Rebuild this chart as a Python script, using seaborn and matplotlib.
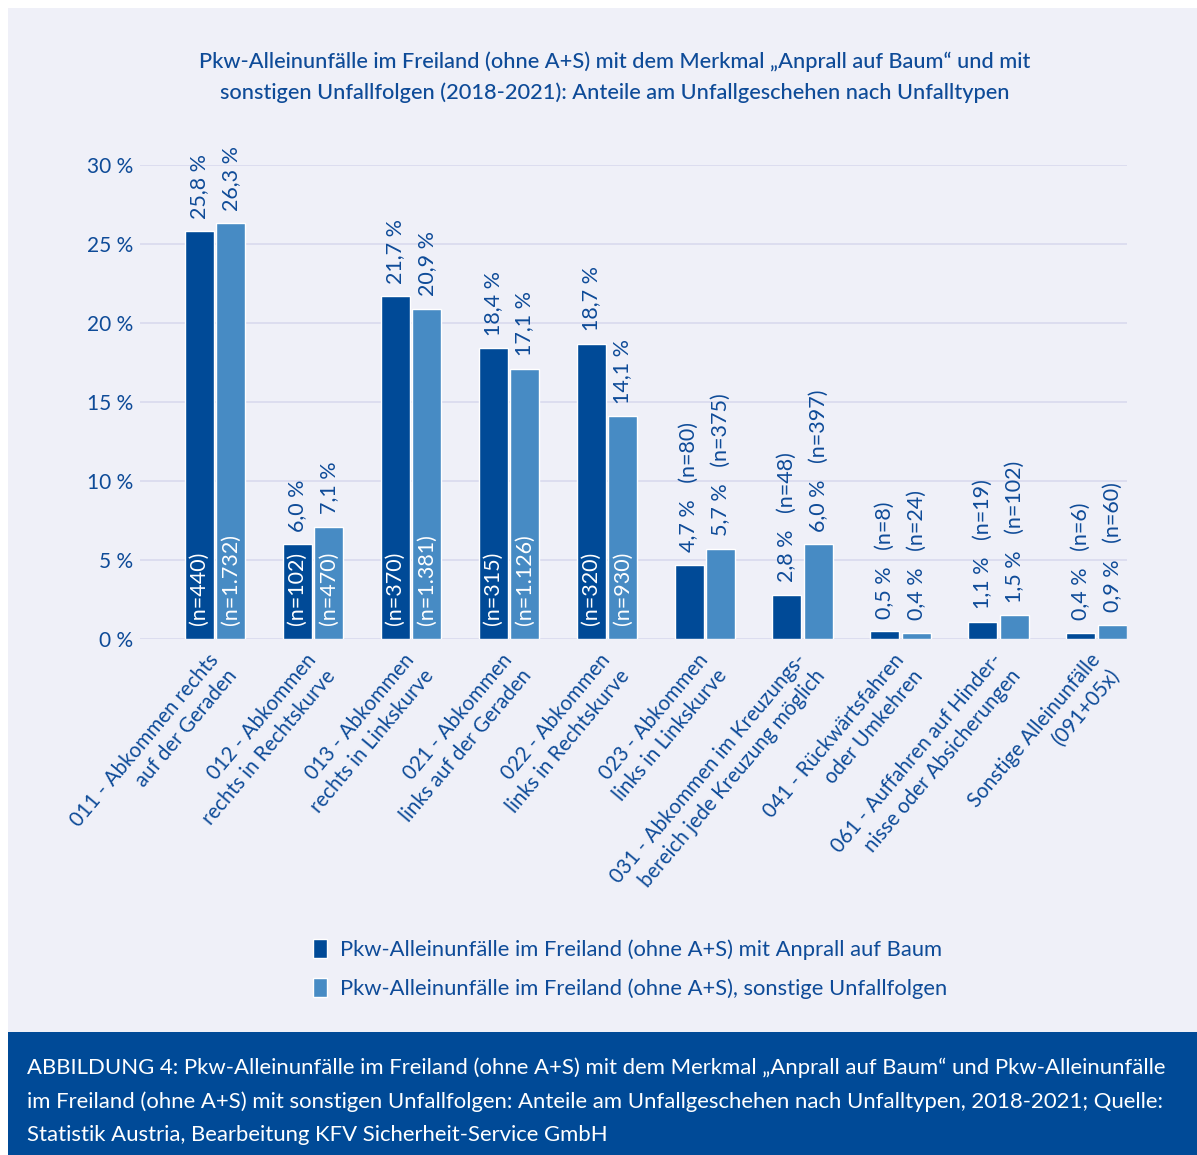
import numpy as np
import pandas as pd
import matplotlib.pyplot as plt
import seaborn as sns
from matplotlib.patches import Rectangle

# ---- data ----
kategorien = [
    "011 - Abkommen rechts\nauf der Geraden",
    "012 - Abkommen\nrechts in Rechtskurve",
    "013 - Abkommen\nrechts in Linkskurve",
    "021 - Abkommen\nlinks auf der Geraden",
    "022 - Abkommen\nlinks in Rechtskurve",
    "023 - Abkommen\nlinks in Linkskurve",
    "031 - Abkommen im Kreuzungs-\nbereich jede Kreuzung möglich",
    "041 - Rückwärtsfahren\noder Umkehren",
    "061 - Auffahren auf Hinder-\nnisse oder Absicherungen",
    "Sonstige Alleinunfälle\n(091+05x)",
]
serie_baum = "Pkw-Alleinunfälle im Freiland (ohne A+S) mit Anprall auf Baum"
serie_sonst = "Pkw-Alleinunfälle im Freiland (ohne A+S), sonstige Unfallfolgen"

anteil_baum = [25.8, 6.0, 21.7, 18.4, 18.7, 4.7, 2.8, 0.5, 1.1, 0.4]
anteil_sonst = [26.3, 7.1, 20.9, 17.1, 14.1, 5.7, 6.0, 0.4, 1.5, 0.9]
n_baum = ["440", "102", "370", "315", "320", "80", "48", "8", "19", "6"]
n_sonst = ["1.732", "470", "1.381", "1.126", "930", "375", "397", "24", "102", "60"]

y_ticks = [0, 5, 10, 15, 20, 25, 30]

# ---- farben ----
dunkel = "#004A97"
hell = "#478BC4"
textblau = "#0E4B98"
bg = "#EFF0F8"
gitter = "#D9DAEE"

df = pd.DataFrame({
    "Kategorie": kategorien * 2,
    "Serie": [serie_baum] * len(kategorien) + [serie_sonst] * len(kategorien),
    "Anteil": anteil_baum + anteil_sonst,
})

sns.set_theme(style="white")
plt.rcParams["font.family"] = ["Lato", "DejaVu Sans"]

W, H = 1197, 1155
fig = plt.figure(figsize=(W / 100, H / 100), dpi=100)
fig.patch.set_facecolor("white")
# hintergrundflächen
fig.add_artist(Rectangle((8 / W, 1 - 1032 / H), 1 - 8 / W, (1032 - 8) / H,
                         transform=fig.transFigure, facecolor=bg, edgecolor="none", zorder=-2))
fig.add_artist(Rectangle((8 / W, 0), 1 - 8 / W, 1 - 1032 / H,
                         transform=fig.transFigure, facecolor=dunkel, edgecolor="none", zorder=-2))

ax = fig.add_axes([140 / W, 1 - 639 / H, (1127 - 140) / W, (639 - 165) / H])
ax.set_facecolor(bg)

sns.barplot(data=df, x="Kategorie", y="Anteil", hue="Serie", palette=[dunkel, hell],
            width=0.643, gap=0.08, saturation=1, ax=ax, legend=True)

ax.set_xlim(-0.765, 9.31)
ax.set_ylim(0, 30)
ax.set_yticks(y_ticks)
ax.set_yticklabels([f"{t} %" for t in y_ticks], color=textblau, fontsize=15)
ax.yaxis.grid(True, color=gitter, linewidth=1.2)
ax.set_axisbelow(True)
for s in ax.spines.values():
    s.set_visible(False)
ax.tick_params(axis="y", length=0, pad=5)
ax.tick_params(axis="x", length=0, pad=8)
ax.set_xlabel("")
ax.set_ylabel("")

ax.set_xticks(np.arange(len(kategorien)) - 0.08)
ax.set_xticklabels(kategorien, rotation=50, ha="right", va="top", rotation_mode="anchor",
                   multialignment="right", color=textblau, fontsize=14.8, linespacing=1.3)

off = 0.643 / 4
for i in range(len(kategorien)):
    for j, (v, n) in enumerate([(anteil_baum[i], n_baum[i]), (anteil_sonst[i], n_sonst[i])]):
        xb = i - off if j == 0 else i + off
        pct = f"{v:.1f}".replace(".", ",") + " %"
        if i < 5:
            ax.annotate(pct, (xb, v), xytext=(0, 9), textcoords="offset points",
                        rotation=90, ha="center", va="bottom", color=textblau,
                        fontsize=15.5, annotation_clip=False)
            ax.annotate(f"(n={n})", (xb, 0), xytext=(0, 10), textcoords="offset points",
                        rotation=90, ha="center", va="bottom", color="white",
                        fontsize=15.5, annotation_clip=False)
        else:
            ax.annotate(f"{pct}   (n={n})", (xb, v), xytext=(0, 9), textcoords="offset points",
                        rotation=90, ha="center", va="bottom", color=textblau,
                        fontsize=15.5, annotation_clip=False)

handles, labels = ax.get_legend_handles_labels()
ax.get_legend().remove()
leg = fig.legend(handles, labels, loc="center", bbox_to_anchor=(630 / W, 1 - 969 / H),
                 frameon=False, fontsize=15.8, handlelength=0.65, handleheight=0.95,
                 labelspacing=0.8, handletextpad=0.55, alignment="left")
for t in leg.get_texts():
    t.set_color(textblau)

fig.text(615 / W, 1 - 77 / H,
         "Pkw-Alleinunfälle im Freiland (ohne A+S) mit dem Merkmal „Anprall auf Baum“ und mit\n"
         "sonstigen Unfallfolgen (2018-2021): Anteile am Unfallgeschehen nach Unfalltypen",
         ha="center", va="center", color=textblau, fontsize=15.7, fontweight="medium",
         linespacing=1.6)

fig.text(27 / W, 1 - 1101 / H,
         "ABBILDUNG 4: Pkw-Alleinunfälle im Freiland (ohne A+S) mit dem Merkmal „Anprall auf Baum“ und Pkw-Alleinunfälle\n"
         "im Freiland (ohne A+S) mit sonstigen Unfallfolgen: Anteile am Unfallgeschehen nach Unfalltypen, 2018-2021; Quelle:\n"
         "Statistik Austria, Bearbeitung KFV Sicherheit-Service GmbH",
         ha="left", va="center", color="white", fontsize=15.9, linespacing=1.8)

fig.savefig("out.png", dpi=100, facecolor=fig.get_facecolor())
